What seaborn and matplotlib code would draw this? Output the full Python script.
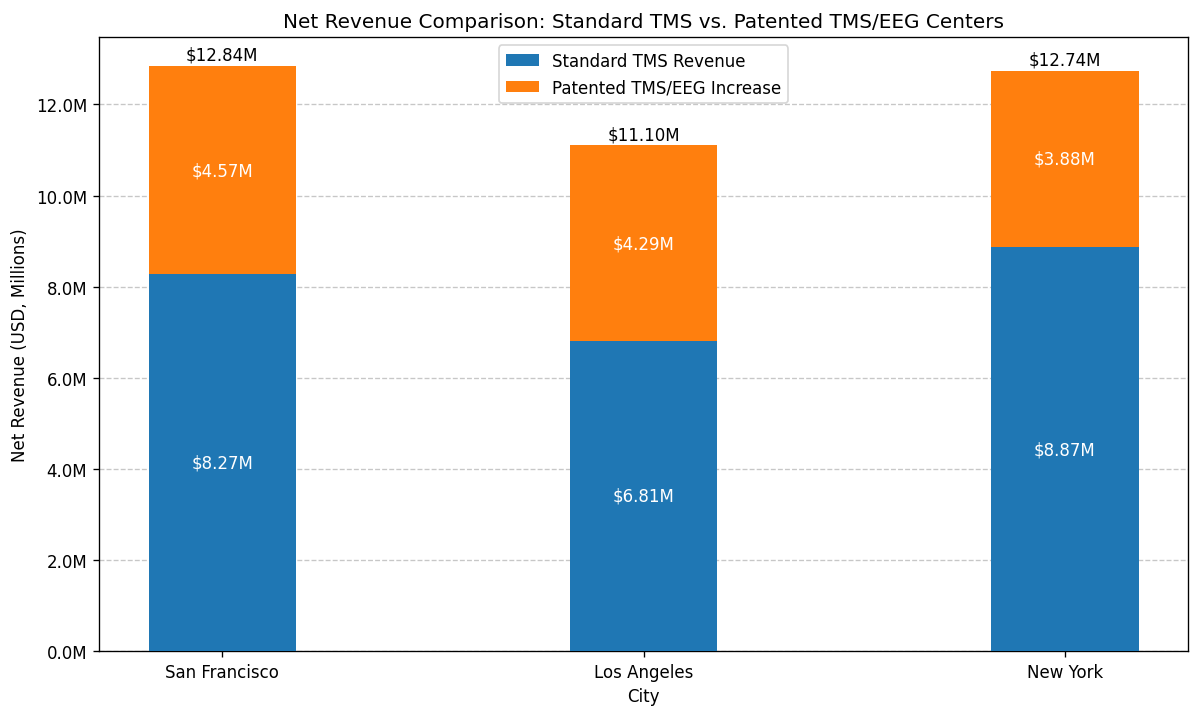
import matplotlib
matplotlib.use("Agg")
import matplotlib.pyplot as plt
import seaborn as sns
import pandas as pd
from matplotlib.ticker import FuncFormatter

cities = ["San Francisco", "Los Angeles", "New York"]
standard = [8.27, 6.81, 8.866]       # USD millions
increase = [4.57, 4.29, 3.876]       # USD millions

totals = [s + i for s, i in zip(standard, increase)]
df = pd.DataFrame({"City": cities, "Standard": standard, "Increase": increase, "Total": totals})

blue = "#1f77b4"
orange = "#ff7f0e"

fig, ax = plt.subplots(figsize=(10, 5.9583), dpi=120)
fig.subplots_adjust(left=0.0825, right=0.99, top=0.947, bottom=0.088)

sns.barplot(data=df, x="City", y="Total", color=orange, saturation=1, width=0.35,
            label="Patented TMS/EEG Increase", ax=ax, zorder=2)
sns.barplot(data=df, x="City", y="Standard", color=blue, saturation=1, width=0.35,
            label="Standard TMS Revenue", ax=ax, zorder=3)

for i, (s, inc, t) in enumerate(zip(standard, increase, totals)):
    ax.text(i, s / 2, f"${s:.2f}M", ha="center", va="center", color="white", fontsize=10, zorder=4)
    ax.text(i, s + inc / 2, f"${inc:.2f}M", ha="center", va="center", color="white", fontsize=10, zorder=4)
    ax.text(i, t + 0.05, f"${t:.2f}M", ha="center", va="bottom", color="black", fontsize=10, zorder=4)

ax.set_xlim(-0.2925, 2.2925)
ax.set_ylim(0, max(totals) * 1.05)
ax.yaxis.set_major_formatter(FuncFormatter(lambda v, p: f"{v:.1f}M"))
ax.set_yticks([0, 2, 4, 6, 8, 10, 12])
ax.grid(axis="y", linestyle="--", alpha=0.7)
ax.grid(axis="x", visible=False)
ax.set_axisbelow(True)

ax.set_title("Net Revenue Comparison: Standard TMS vs. Patented TMS/EEG Centers", fontsize=12)
ax.set_xlabel("City")
ax.set_ylabel("Net Revenue (USD, Millions)")

handles, labels = ax.get_legend_handles_labels()
ax.legend(handles[::-1], labels[::-1], loc="upper center")

fig.savefig("out.png", dpi=120)
